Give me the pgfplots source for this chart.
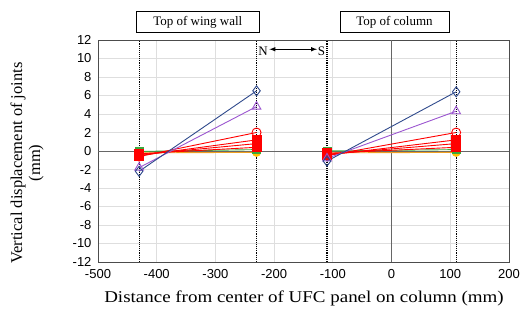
\documentclass[border=0pt]{standalone}
\usepackage{pgfplots}
\pgfplotsset{compat=1.18}
\usepackage{fontspec}
\setmainfont{Liberation Serif}
\newfontfamily\arial{Liberation Sans}
\definecolor{cblue}{HTML}{2F4A8C}
\definecolor{cpurple}{HTML}{9B55D0}
\definecolor{cred}{HTML}{FF0000}
\definecolor{cgreen}{HTML}{3CA83C}
\definecolor{cyel}{HTML}{FFC000}
\definecolor{corange}{HTML}{F0A020}
\begin{document}
\begin{tikzpicture}[x=1pt,y=1pt]
\begin{axis}[
  at={(0,0)}, anchor=south west,
  scale only axis, width=411pt, height=222pt,
  xmin=-500, xmax=200, ymin=-12, ymax=12,
  xtick={-500,-400,...,200}, ytick={-12,-10,...,12},
  grid=major, major grid style={draw=black!13, line width=0.8pt},
  axis line style={draw=black!70, line width=0.8pt},
  tick style={draw=none},
  ticklabel style={font=\fontsize{13}{14}\arial},
  /pgf/number format/assume math mode=true,
  xticklabel style={yshift=-4pt},
  yticklabel style={xshift=-3pt},
  unbounded coords=jump,
  clip=false,
  every axis plot/.append style={line width=0.9pt},
]
% axis lines at zero
\addplot[draw=black!60, line width=0.9pt, forget plot] coordinates {(-500,0) (200,0)};
\addplot[draw=black!60, line width=0.9pt, forget plot] coordinates {(0,-12) (0,12)};
% dotted reference lines
\addplot[draw=black, densely dotted, line width=1.1pt, forget plot] coordinates {(-430,-12) (-430,12) (nan,nan) (-230,-12) (-230,12) (nan,nan) (-110,-12) (-110,12) (nan,nan) (110,-12) (110,12)};
% series
\addplot[color=corange, mark=*, mark size=4pt, mark options={fill=cyel, draw=cyel}] coordinates {(-430,-0.2) (-230,-0.15) (nan,nan) (-110,-0.2) (110,-0.15)};
\addplot[color=cgreen, mark=square*, mark size=4pt, mark options={fill=cgreen}] coordinates {(-430,-0.05) (-230,0.15) (nan,nan) (-110,0.0) (110,0.15)};
\addplot[color=cred, mark=square*, mark size=4.5pt, mark options={fill=cred}] coordinates {(-430,-0.3) (-230,0.4) (nan,nan) (-110,-0.25) (110,0.4)};
\addplot[color=cred, mark=square*, mark size=4.5pt, mark options={fill=cred}] coordinates {(-430,-0.4) (-230,0.8) (nan,nan) (-110,-0.35) (110,0.8)};
\addplot[color=cred, mark=square*, mark size=4.5pt, mark options={fill=cred}] coordinates {(-430,-0.5) (-230,1.2) (nan,nan) (-110,-0.45) (110,1.2)};
\addplot[color=cred, mark=o, mark size=4.5pt, mark options={draw=cred, line width=0.9pt}] coordinates {(-430,-0.6) (-230,2.0) (nan,nan) (-110,-0.5) (110,2.0)};
\addplot[color=cpurple, mark=triangle, mark size=5pt, mark options={draw=cpurple, line width=0.9pt}] coordinates {(-430,-1.8) (-230,4.8) (nan,nan) (-110,-0.8) (110,4.3)};
\addplot[color=cblue, mark=diamond, mark size=5pt, mark options={draw=cblue, line width=0.9pt}] coordinates {(-430,-2.2) (-230,6.5) (nan,nan) (-110,-1.1) (110,6.4)};
% N <-> S
\node[font=\fontsize{13}{14}\selectfont, anchor=west, inner sep=1pt] at (axis cs:-229,10.8) {N};
\node[font=\fontsize{13}{14}\selectfont, anchor=east, inner sep=1pt] at (axis cs:-111,10.8) {S};
\draw[<->, >=latex, line width=1pt] (axis cs:-208,11.0) -- (axis cs:-127,11.0);
% title boxes
\node[draw=black, line width=0.8pt, font=\fontsize{13}{14}\selectfont, minimum width=123pt, minimum height=21pt, inner sep=1pt] at (axis cs:-330,12) [yshift=18pt] {Top of wing wall};
\node[draw=black, line width=0.8pt, font=\fontsize{13}{14}\selectfont, minimum width=109pt, minimum height=21pt, inner sep=1pt] at (axis cs:5,12) [yshift=18pt] {Top of column};
\end{axis}
% axis labels
\node[rotate=90, font=\fontsize{16.5}{18}\selectfont, align=center] at (-71,99) {Vertical displacement of joints\\(mm)};
\node[font=\fontsize{16.5}{18}\selectfont, xscale=1.15] at (206,-36) {Distance from center of UFC panel on column (mm)};
\pgfresetboundingbox
\path[use as bounding box] (-98,-58) rectangle (423,262);
\end{tikzpicture}
\end{document}
